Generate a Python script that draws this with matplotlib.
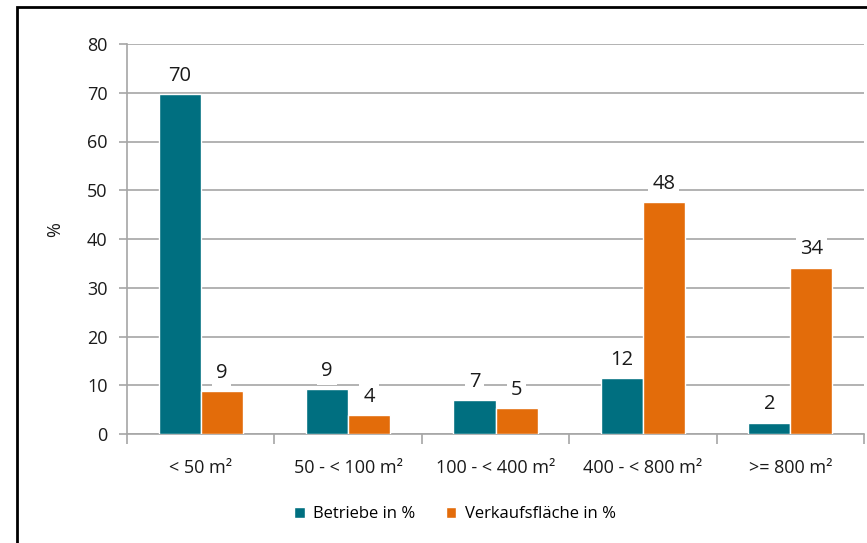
import matplotlib
matplotlib.use("Agg")
import matplotlib.pyplot as plt
import matplotlib.patches as mpatches
import numpy as np

plt.rcParams["font.family"] = ["Open Sans", "DejaVu Sans"]

CATEGORIES = ["< 50 m²", "50 - < 100 m²", "100 - < 400 m²", "400 - < 800 m²", ">= 800 m²"]
BETRIEBE = [69.7, 9.2, 7.0, 11.5, 2.3]
VERKAUF = [8.8, 3.9, 5.3, 47.6, 34.1]
SERIES = ["Betriebe in %", "Verkaufsfläche in %"]
COLORS = ["#006F80", "#E36C0A"]
GRID = "#A6A6A6"
TEXT = "#1a1a1a"

fig = plt.figure(figsize=(8.67, 5.43), dpi=100)
ax = fig.add_axes([127 / 867, 1 - 434 / 543, 737 / 867, 390 / 543])

# outer frame of the chart area
fig.patches.append(mpatches.Rectangle((17 / 867, -0.05), 1.1, 1 - 7 / 543 + 0.05,
                                      transform=fig.transFigure, fill=False,
                                      edgecolor="black", linewidth=2, zorder=10))

x = np.arange(len(CATEGORIES))
w = 0.285
for i, (vals, color) in enumerate(zip([BETRIEBE, VERKAUF], COLORS)):
    xs = x + (i - 0.5) * w
    ax.bar(xs, vals, width=w, color=color, edgecolor="white", linewidth=1.0,
           label=SERIES[i], zorder=3)
    for xi, v in zip(xs, vals):
        ax.annotate(f"{v:.0f}", (xi, v), xytext=(0, 6), textcoords="offset points",
                    ha="center", va="bottom", fontsize=14.5, color=TEXT,
                    bbox=dict(boxstyle="square,pad=0.2", fc="white", ec="none"),
                    zorder=4)

ax.set_xlim(-0.5, len(CATEGORIES) - 0.5)
ax.set_ylim(0, 80)
ax.set_yticks(range(0, 81, 10))
ax.yaxis.grid(True, color=GRID, linewidth=1.2, zorder=0)
ax.set_axisbelow(True)

ax.set_xticks(x)
ax.set_xticklabels(CATEGORIES, fontsize=13, color=TEXT)
ax.set_xticks(np.arange(-0.5, len(CATEGORIES)), minor=True)
ax.tick_params(axis="x", which="major", length=0, pad=18)
ax.tick_params(axis="x", which="minor", length=7, width=1.2, color=GRID)
ax.tick_params(axis="y", length=6, width=1.2, color=GRID, labelsize=13,
               labelcolor=TEXT, pad=8)

for side in ("top", "right"):
    ax.spines[side].set_visible(False)
for side in ("left", "bottom"):
    ax.spines[side].set_color(GRID)
    ax.spines[side].set_linewidth(1.2)

fig.text(55 / 867, 1 - 230 / 543, "%", rotation=90, ha="center", va="center",
         fontsize=13, color=TEXT)

fig.legend(loc="center", bbox_to_anchor=(455 / 867, 1 - 514 / 543), ncol=2,
           frameon=False, fontsize=12, handlelength=0.65, handleheight=0.65,
           handletextpad=0.5, columnspacing=1.8)

fig.savefig("out.png", dpi=100)
